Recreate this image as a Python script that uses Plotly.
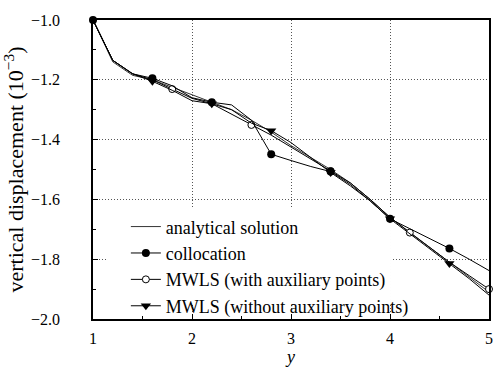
import plotly.graph_objects as go

# ---- data ----
y_nodes = [1.0, 1.2, 1.4, 1.6, 1.8, 2.0, 2.2, 2.4, 2.6, 2.8, 3.0,
           3.2, 3.4, 3.6, 3.8, 4.0, 4.2, 4.4, 4.6, 4.8, 5.0]

analytical = [-1.0, -1.14, -1.185, -1.2, -1.225, -1.25, -1.275, -1.30, -1.335, -1.375, -1.42,
              -1.46, -1.50, -1.545, -1.60, -1.66, -1.71, -1.76, -1.81, -1.86, -1.91]

colloc_line = [-1.0, -1.135, -1.18, -1.195, -1.22, -1.26, -1.275, -1.284, -1.335, -1.449, -1.47,
               -1.49, -1.507, -1.55, -1.605, -1.665, -1.698, -1.731, -1.764, -1.80, -1.838]
colloc_mk_y = [1.0, 1.6, 2.2, 2.8, 3.4, 4.0, 4.6]
colloc_mk_v = [-1.0, -1.195, -1.275, -1.449, -1.507, -1.665, -1.764]

mwls_aux_line = [-1.0, -1.135, -1.18, -1.20, -1.231, -1.262, -1.28, -1.315, -1.351, -1.385, -1.425,
                 -1.465, -1.505, -1.545, -1.60, -1.66, -1.711, -1.76, -1.81, -1.855, -1.90]
mwls_aux_mk_y = [1.8, 2.6, 3.4, 4.2, 5.0]
mwls_aux_mk_v = [-1.231, -1.351, -1.505, -1.711, -1.90]

mwls_noaux_line = [-1.0, -1.135, -1.18, -1.205, -1.235, -1.27, -1.28, -1.30, -1.345, -1.37, -1.41,
                   -1.46, -1.51, -1.555, -1.605, -1.665, -1.715, -1.765, -1.814, -1.865, -1.92]
mwls_noaux_mk_y = [1.6, 2.2, 2.8, 3.4, 4.0, 4.6]
mwls_noaux_mk_v = [-1.205, -1.28, -1.37, -1.51, -1.665, -1.814]

names = ["analytical solution", "collocation",
         "MWLS (with auxiliary points)", "MWLS (without auxiliary points)"]

FONT = "Liberation Serif"
fig = go.Figure()

# analytical
fig.add_trace(go.Scatter(x=y_nodes, y=analytical, mode="lines", name=names[0], legendrank=1,
                         line=dict(color="black", width=0.8), cliponaxis=False))
# MWLS with aux
fig.add_trace(go.Scatter(x=y_nodes, y=mwls_aux_line, mode="lines", showlegend=False,
                         line=dict(color="black", width=1), cliponaxis=False))
fig.add_trace(go.Scatter(x=mwls_aux_mk_y, y=mwls_aux_mk_v, mode="markers", showlegend=False,
                         marker=dict(symbol="circle", size=7, color="white",
                                     line=dict(color="black", width=1)), cliponaxis=False))
fig.add_trace(go.Scatter(x=[None], y=[None], mode="lines+markers", name=names[2], legendrank=3,
                         line=dict(color="black", width=1),
                         marker=dict(symbol="circle", size=7, color="white",
                                     line=dict(color="black", width=1))))
# MWLS without aux
fig.add_trace(go.Scatter(x=y_nodes, y=mwls_noaux_line, mode="lines", showlegend=False,
                         line=dict(color="black", width=1), cliponaxis=False))
fig.add_trace(go.Scatter(x=mwls_noaux_mk_y, y=mwls_noaux_mk_v, mode="markers", showlegend=False,
                         marker=dict(symbol="triangle-down", size=9, color="black"), cliponaxis=False))
fig.add_trace(go.Scatter(x=[None], y=[None], mode="lines+markers", name=names[3], legendrank=4,
                         line=dict(color="black", width=1),
                         marker=dict(symbol="triangle-down", size=9, color="black")))
# collocation (drawn last, on top)
fig.add_trace(go.Scatter(x=y_nodes, y=colloc_line, mode="lines", showlegend=False,
                         line=dict(color="black", width=1), cliponaxis=False))
fig.add_trace(go.Scatter(x=colloc_mk_y, y=colloc_mk_v, mode="markers", showlegend=False,
                         marker=dict(symbol="circle", size=8, color="black"), cliponaxis=False))
fig.add_trace(go.Scatter(x=[None], y=[None], mode="lines+markers", name=names[1], legendrank=2,
                         line=dict(color="black", width=1),
                         marker=dict(symbol="circle", size=8, color="black")))

# white legend backdrop between gridlines and traces
fig.add_shape(type="rect", xref="x", yref="y", x0=1.14, x1=4.01, y0=-1.95, y1=-1.63,
              fillcolor="white", line=dict(width=0), layer="between")

axis_common = dict(showline=True, linecolor="black", linewidth=1.5, mirror=True,
                   ticks="inside", ticklen=5, tickcolor="black",
                   showgrid=True, gridcolor="#555", griddash="1px,2px", gridwidth=0.8,
                   zeroline=False, automargin=False,
                   tickfont=dict(family=FONT, size=16, color="black"))

fig.update_xaxes(range=[1, 5], dtick=1, tick0=1,
                 minor=dict(dtick=0.5, ticks="inside", ticklen=3, tickcolor="black", showgrid=False),
                 title=dict(text="<i>y</i>", font=dict(family=FONT, size=18, color="black"), standoff=2),
                 ticklabelstandoff=4,
                 **axis_common)
fig.update_yaxes(range=[-2.0, -1.0], dtick=0.2, tick0=-2.0, tickformat=".1f",
                 minor=dict(dtick=0.1, ticks="inside", ticklen=3, tickcolor="black", showgrid=False),
                 title=dict(text="vertical displacement (10<sup>−3</sup>)",
                            font=dict(family=FONT, size=22, color="black"), standoff=8),
                 ticklabelstandoff=28,
                 **axis_common)

fig.update_layout(
    width=494, height=371,
    margin=dict(l=93, r=5, t=20, b=52),
    plot_bgcolor="white", paper_bgcolor="white",
    font=dict(family=FONT, size=15, color="black"),
    legend=dict(x=0.083, y=0.37, xanchor="left", yanchor="top",
                bgcolor="rgba(0,0,0,0)", borderwidth=0,
                font=dict(family=FONT, size=18, color="black"),
                tracegroupgap=0, itemwidth=30),
)

fig.write_html("out.html", config={"displayModeBar": False},
               post_script="document.body.style.margin='0';")
